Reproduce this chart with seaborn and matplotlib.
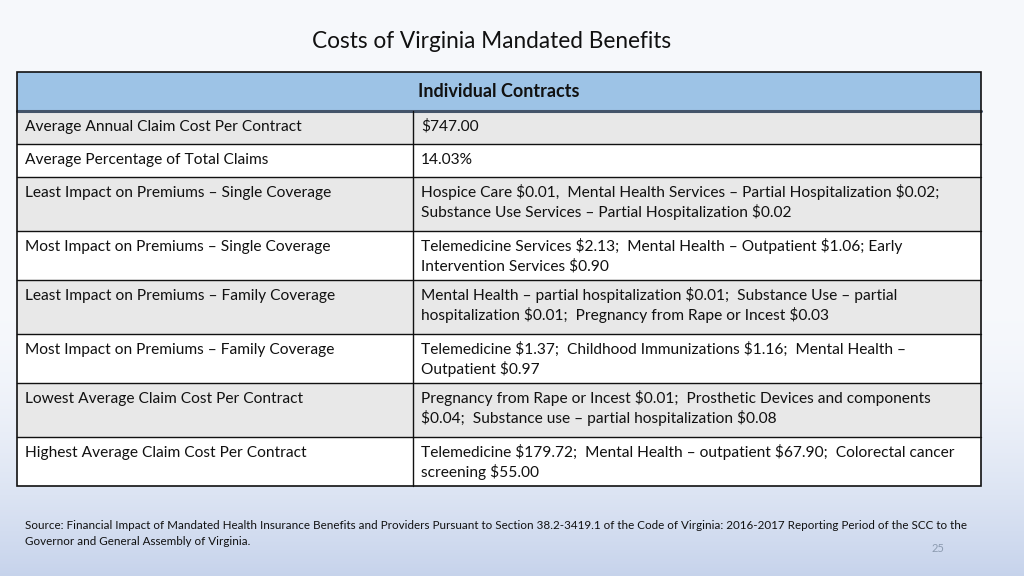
import matplotlib
matplotlib.use("Agg")
import matplotlib.pyplot as plt
import seaborn as sns
import numpy as np
from matplotlib.patches import Rectangle

sns.set_style("white")
plt.rcParams['font.family'] = ['Lato', 'DejaVu Sans']
plt.rcParams['text.parse_math'] = False  # dollar signs are plain text

title = "Costs of Virginia Mandated Benefits"
header = "Individual Contracts"
row_labels = [
    "Average Annual Claim Cost Per Contract",
    "Average Percentage of Total Claims",
    "Least Impact on Premiums \u2013 Single Coverage",
    "Most Impact on Premiums \u2013 Single Coverage",
    "Least Impact on Premiums \u2013 Family Coverage",
    "Most Impact on Premiums \u2013 Family Coverage",
    "Lowest Average Claim Cost Per Contract",
    "Highest Average Claim Cost Per Contract",
]
row_values = [
    "$747.00",
    "14.03%",
    "Hospice Care $0.01,  Mental Health Services \u2013 Partial Hospitalization $0.02;\nSubstance Use Services \u2013 Partial Hospitalization $0.02",
    "Telemedicine Services $2.13;  Mental Health \u2013 Outpatient $1.06; Early\nIntervention Services $0.90",
    "Mental Health \u2013 partial hospitalization $0.01;  Substance Use \u2013 partial\nhospitalization $0.01;  Pregnancy from Rape or Incest $0.03",
    "Telemedicine $1.37;  Childhood Immunizations $1.16;  Mental Health \u2013\nOutpatient $0.97",
    "Pregnancy from Rape or Incest $0.01;  Prosthetic Devices and components\n$0.04;  Substance use \u2013 partial hospitalization $0.08",
    "Telemedicine $179.72;  Mental Health \u2013 outpatient $67.90;  Colorectal cancer\nscreening $55.00",
]
source_lines = [
    "Source: Financial Impact of Mandated Health Insurance Benefits and Providers Pursuant to Section 38.2-3419.1 "
    "of the Code of Virginia: 2016-2017 Reporting Period of the SCC to the",
    "Governor and General Assembly of Virginia.",
]
page_no = "25"

W, H = 1024, 576
fig = plt.figure(figsize=(10.24, 5.76), dpi=100)
ax = fig.add_axes([0, 0, 1, 1])
ax.set_xlim(0, W)
ax.set_ylim(H, 0)
ax.axis("off")

# slide background: near white fading to light blue at the bottom
t = np.linspace(0, 1, 200)[:, None]
top = np.array([0.965, 0.973, 0.988])
bot = np.array([0.78, 0.83, 0.925])
mix = np.clip((t - 0.55) / 0.45, 0, 1) ** 1.6
grad = top * (1 - mix[..., None]) + bot * mix[..., None]
grad = np.repeat(grad, 2, axis=1)
ax.imshow(grad, extent=[0, W, H, 0], aspect="auto", zorder=0)

ax.text(492, 41, title, ha="center", va="center", fontsize=16.3, color="#111111")

# table geometry
x0, x1, xm = 17, 981, 413
y = 72
head_h = 39
ax.add_patch(Rectangle((x0, y), x1 - x0, head_h, facecolor="#9dc3e6", edgecolor="none", zorder=1))
ax.text((x0 + x1) / 2, y + head_h / 2, header, ha="center", va="center",
        fontsize=13, fontweight="bold", color="#111111", zorder=3)
y += head_h
ax.plot([x0, x1], [y, y], color="#44546a", lw=2.2, zorder=4)

line_h = 20
for i, (lab, val) in enumerate(zip(row_labels, row_values)):
    lines = val.split("\n")
    shaded = i % 2 == 0
    h = 13 + line_h * len(lines)
    if len(lines) > 1:
        h += 1 if shaded else -4
    fc = "#e8e8e8" if shaded else "#ffffff"
    ax.add_patch(Rectangle((x0, y), x1 - x0, h, facecolor=fc, edgecolor="none", zorder=1))
    ax.text(25, y + 20, lab, ha="left", va="baseline", fontsize=11.2, color="#111111", zorder=3)
    for k, line in enumerate(lines):
        ax.text(421, y + 20 + line_h * k, line, ha="left", va="baseline", fontsize=11.2,
                color="#111111", zorder=3)
    y += h
    if i < len(row_labels) - 1:
        ax.plot([x0, x1], [y, y], color="#111111", lw=1, zorder=4)

# outer frame and column divider
ax.add_patch(Rectangle((x0, 72), x1 - x0, y - 72, facecolor="none", edgecolor="#111111", lw=1.2, zorder=5))
ax.plot([xm, xm], [72 + head_h, y], color="#111111", lw=1, zorder=4)

for k, line in enumerate(source_lines):
    ax.text(25, 529 + 16 * k, line, ha="left", va="baseline", fontsize=8.4, color="#111111")
ax.text(938, 549, page_no, ha="center", va="center", fontsize=8, color="#8c9bb0")

fig.savefig("out.png", dpi=100)
